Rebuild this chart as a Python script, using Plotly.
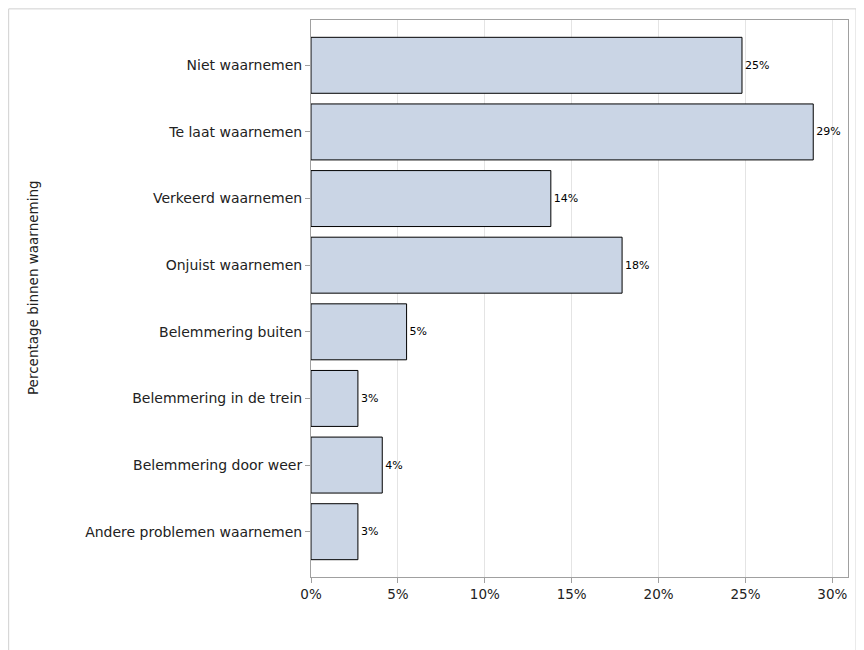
import plotly.graph_objects as go

categories = ["Niet waarnemen", "Te laat waarnemen", "Verkeerd waarnemen", "Onjuist waarnemen",
              "Belemmering buiten", "Belemmering in de trein", "Belemmering door weer",
              "Andere problemen waarnemen"]
values = [24.8, 28.9, 13.8, 17.9, 5.5, 2.7, 4.1, 2.7]
labels = ["25%", "29%", "14%", "18%", "5%", "3%", "4%", "3%"]

fig = go.Figure(go.Bar(
    y=categories, x=values, orientation="h", text=labels, textposition="outside",
    textfont=dict(size=11, color="black", family="DejaVu Sans"), cliponaxis=False,
    marker=dict(color="#CAD5E5", line=dict(color="black", width=1)), width=0.84))

fig.update_layout(
    width=864, height=650, paper_bgcolor="white", plot_bgcolor="white",
    margin=dict(l=303, r=24, t=12, b=81), showlegend=False,
    font=dict(family="DejaVu Sans", size=13.5, color="#222"),
    shapes=[dict(type="rect", xref="paper", yref="paper", x0=-0.563, x1=1.015, y0=-0.2, y1=1.02,
                 line=dict(color="#d0d0d0", width=1))],
    annotations=[dict(text="Percentage binnen waarneming", xref="paper", yref="paper",
                      x=-0.535, y=0.52, textangle=-90, showarrow=False, font=dict(size=13.5))])
fig.update_xaxes(range=[0, 30.9], tickvals=[0, 5, 10, 15, 20, 25, 30],
                 ticktext=["0%", "5%", "10%", "15%", "20%", "25%", "30%"],
                 showgrid=True, gridcolor="#e4e4e4", showline=True, linecolor="#a0a0a0",
                 mirror=True, ticks="outside", tickcolor="#a0a0a0", zeroline=False)
fig.update_yaxes(range=[7.68, -0.68], showline=True, linecolor="#a0a0a0", mirror=True,
                 ticks="outside", tickcolor="#a0a0a0", ticklen=5, tickfont=dict(size=14))
fig.write_html("out.html")
